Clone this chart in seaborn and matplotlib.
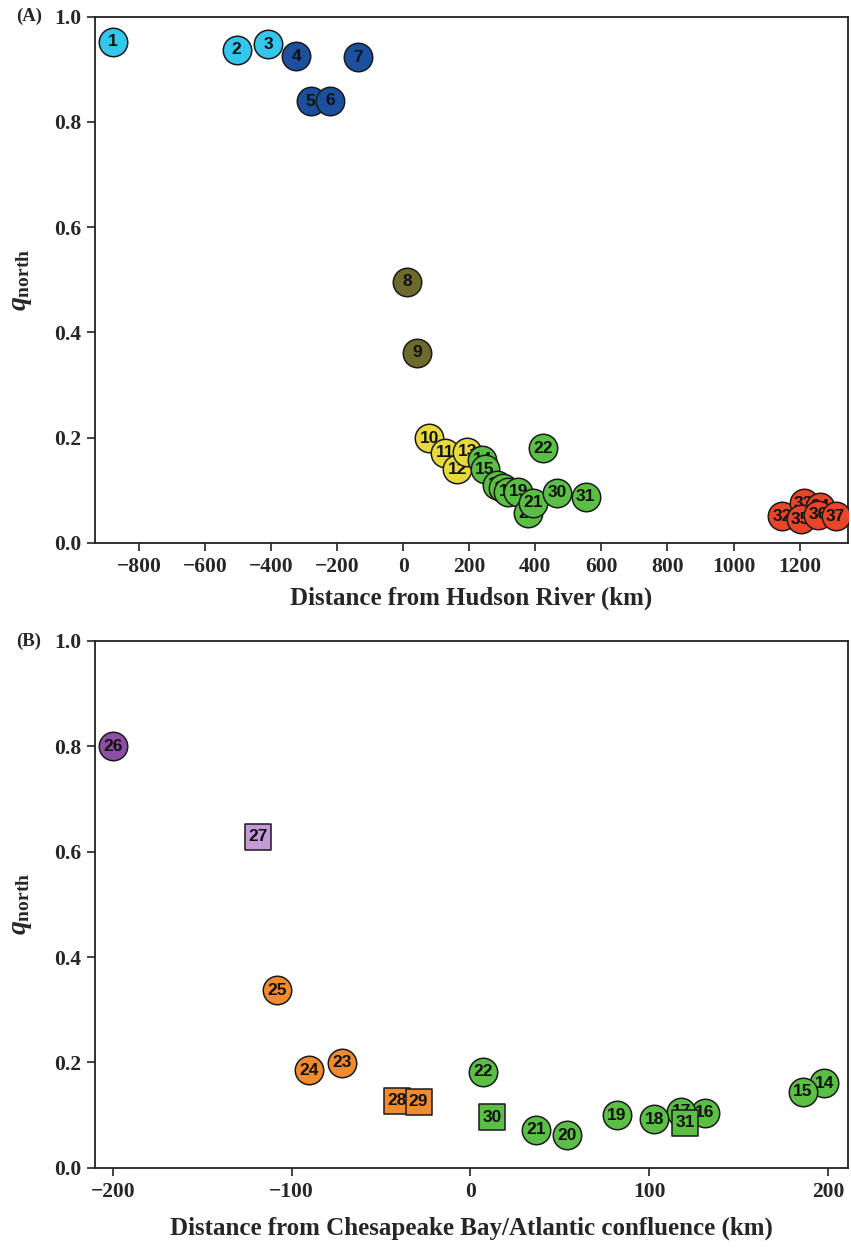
import matplotlib
matplotlib.use("Agg")
import matplotlib.pyplot as plt
import seaborn as sns
import pandas as pd

# panel A - distance from Hudson River
a_site = [1, 2, 3, 4, 5, 6, 7, 8, 9, 10, 11, 12, 13, 14, 15, 16, 17, 18, 19, 20, 21, 22,
          30, 31, 32, 33, 34, 35, 36, 37]
a_dist = [-879, -504, -408, -324, -280, -221, -137, 12, 42, 79, 127, 164, 194, 239, 248,
          285, 303, 318, 348, 379, 394, 424, 467, 552, 1147, 1212, 1262, 1203, 1255, 1309]
a_q = [0.952, 0.937, 0.948, 0.925, 0.839, 0.840, 0.923, 0.496, 0.361, 0.199, 0.171, 0.140,
       0.173, 0.158, 0.140, 0.110, 0.104, 0.097, 0.097, 0.056, 0.076, 0.180, 0.095, 0.087,
       0.050, 0.075, 0.068, 0.045, 0.053, 0.050]

# panel B - distance from Chesapeake Bay/Atlantic confluence
b_site = [14, 15, 16, 17, 18, 19, 20, 21, 22, 23, 24, 25, 26, 27, 28, 29, 30, 31]
b_dist = [198, 186, 131, 118, 103, 82, 54, 37, 7, -72, -90, -108, -200, -119, -41, -29, 12, 120]
b_q = [0.160, 0.144, 0.104, 0.106, 0.092, 0.100, 0.062, 0.072, 0.182, 0.199, 0.185, 0.337,
       0.800, 0.628, 0.127, 0.125, 0.096, 0.085]
b_squares = [27, 28, 29, 30, 31]

groups = {
    "north_coast": [1, 2, 3],
    "gulf_maine": [4, 5, 6, 7],
    "hudson": [8, 9],
    "mid_atlantic": [10, 11, 12, 13],
    "chesapeake": [14, 15, 16, 17, 18, 19, 20, 21, 22, 30, 31],
    "tributary": [23, 24, 25, 28, 29],
    "upper_bay": [26],
    "upper_trib": [27],
    "south": [32, 33, 34, 35, 36, 37],
}
palette = {
    "north_coast": "#35c6ec",
    "gulf_maine": "#1c4f9e",
    "hudson": "#6d6a2c",
    "mid_atlantic": "#e8da3c",
    "chesapeake": "#5cbf45",
    "tributary": "#f28a2e",
    "upper_bay": "#8e4ea5",
    "upper_trib": "#c49ad8",
    "south": "#e8452a",
}
site_group = {s: g for g, ss in groups.items() for s in ss}

sns.set_style("white")
plt.rcParams["font.family"] = ["Liberation Serif", "DejaVu Serif"]
plt.rcParams["mathtext.fontset"] = "custom"
plt.rcParams["mathtext.it"] = "Liberation Serif:italic:bold"
plt.rcParams["mathtext.bf"] = "Liberation Serif:bold"
plt.rcParams["mathtext.rm"] = "Liberation Serif"

fig = plt.figure(figsize=(8.51, 12.5), dpi=100)
ax_a = fig.add_axes([0.1116, 0.5658, 0.8843, 0.4208])
ax_b = fig.add_axes([0.1116, 0.0658, 0.8843, 0.4214])


def draw_panel(ax, sites, dist, q, squares):
    df = pd.DataFrame({"site": sites, "dist": dist, "q": q})
    df["group"] = df["site"].map(site_group)
    df["shape"] = ["s" if s in squares else "o" for s in df["site"]]
    df = df.sort_values("site").reset_index(drop=True)
    # one call per site so that later sites cover earlier labels, as in the original
    for i, row in df.iterrows():
        sns.scatterplot(data=df.iloc[[i]], x="dist", y="q", color=palette[row["group"]],
                        marker=row["shape"], s=420 if row["shape"] == "o" else 360,
                        edgecolor="#1a1a1a", linewidth=1.1, zorder=3 + 2 * i,
                        legend=False, ax=ax)
        ax.text(row["dist"], row["q"], str(row["site"]), ha="center", va="center",
                fontsize=12.5, fontweight="bold", family="Liberation Sans",
                color="#111111", zorder=4 + 2 * i)


def style_axes(ax, xlim, xticks, xlabel, tag, pad):
    ax.set_xlim(*xlim)
    ax.set_ylim(0, 1.0)
    ax.set_xticks(xticks)
    ax.set_yticks([0.0, 0.2, 0.4, 0.6, 0.8, 1.0])
    ax.set_xticklabels([f"{t}".replace("-", "\u2212") for t in xticks])
    ax.set_yticklabels([f"{t:.1f}" for t in [0.0, 0.2, 0.4, 0.6, 0.8, 1.0]])
    for sp in ax.spines.values():
        sp.set_color("#222222")
        sp.set_linewidth(1.3)
    ax.tick_params(axis="both", direction="out", length=6, width=1.2, color="#222222",
                   labelsize=15.5, bottom=True, left=True, pad=4)
    for lab in ax.get_xticklabels() + ax.get_yticklabels():
        lab.set_fontweight("bold")
    ax.set_xlabel(xlabel, fontsize=18, fontweight="bold", labelpad=pad)
    ax.set_ylabel(r"$q_{\mathbf{north}}$", fontsize=20, labelpad=14)
    ax.text(-0.105, 1.0, tag, transform=ax.transAxes, ha="left", va="center",
            fontsize=13.5, fontweight="bold")


draw_panel(ax_a, a_site, a_dist, a_q, [])
draw_panel(ax_b, b_site, b_dist, b_q, b_squares)

style_axes(ax_a, (-933, 1345), list(range(-800, 1201, 200)),
           "Distance from Hudson River (km)", "(A)", 7)
style_axes(ax_b, (-210, 211), [-200, -100, 0, 100, 200],
           "Distance from Chesapeake Bay/Atlantic confluence (km)", "(B)", 11)

fig.savefig("out.png", dpi=100)
